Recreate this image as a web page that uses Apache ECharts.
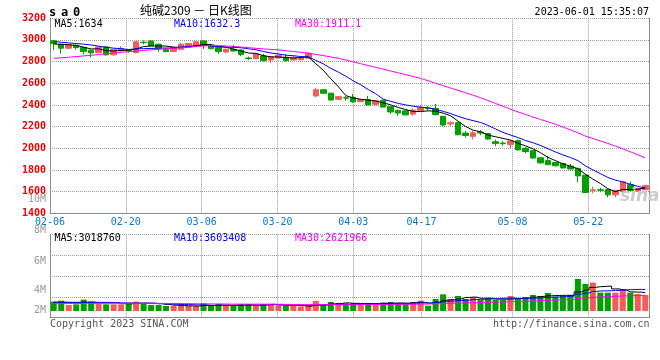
<!DOCTYPE html>
<html><head><meta charset="utf-8">
<script src="https://cdn.jsdelivr.net/npm/echarts@6/dist/echarts.min.js"></script>
<style>html,body{margin:0;padding:0;background:#fff}#c{width:660px;height:360px}</style>
</head><body><div id="c"></div>
<script>
// ---------- data ----------
const dates = ['02-06','02-07','02-08','02-09','02-10','02-13','02-14','02-15','02-16','02-17',
 '02-20','02-21','02-22','02-23','02-24','02-27','02-28','03-01','03-02','03-03',
 '03-06','03-07','03-08','03-09','03-10','03-13','03-14','03-15','03-16','03-17',
 '03-20','03-21','03-22','03-23','03-24','03-27','03-28','03-29','03-30','03-31',
 '04-03','04-04','04-06','04-07','04-10','04-11','04-12','04-13','04-14',
 '04-17','04-18','04-19','04-20','04-21','04-24','04-25','04-26','04-27','04-28',
 '05-04','05-05','05-08','05-09','05-10','05-11','05-12','05-15','05-16','05-17','05-18','05-19',
 '05-22','05-23','05-24','05-25','05-26','05-29','05-30','05-31','06-01'];
const dateTicks = ['02-06','02-20','03-06','03-20','04-03','04-17','05-08','05-22'];

const openP = [2991,2960,2923,2950,2929,2905,2883,2935,2862,2898,
 2905,2883,2978,2990,2960,2914,2893,2914,2938,2945,
 2990,2944,2932,2888,2912,2907,2833,2827,2852,2815,
 2833,2840,2815,2818,2830,2483,2540,2508,2452,2466,
 2470,2432,2450,2405,2440,2384,2350,2345,2315,2350,
 2372,2368,2295,2225,2236,2140,2110,2150,2135,2060,
 2048,2035,2070,2000,1978,1912,1888,1868,1860,1836,
 1815,1752,1608,1618,1620,1570,1600,1665,1605,1620];
const closeP = [2966,2923,2954,2930,2892,2880,2935,2862,2914,2923,
 2898,2982,2974,2945,2923,2892,2930,2960,2966,2982,
 2953,2919,2892,2913,2898,2864,2828,2870,2809,2845,
 2858,2809,2840,2835,2875,2540,2508,2446,2476,2462,
 2428,2450,2400,2438,2380,2335,2325,2308,2352,2375,
 2366,2310,2215,2235,2125,2118,2142,2140,2085,2045,
 2042,2068,1985,1970,1910,1865,1848,1838,1818,1808,
 1745,1592,1616,1612,1570,1612,1690,1610,1630,1655];
const lowP = [2905,2874,2918,2910,2868,2837,2878,2855,2855,2895,
 2880,2875,2960,2940,2892,2885,2885,2910,2932,2940,
 2916,2912,2870,2875,2890,2850,2815,2820,2800,2785,
 2830,2800,2810,2810,2825,2470,2500,2438,2445,2440,
 2421,2428,2398,2395,2375,2316,2298,2305,2300,2345,
 2350,2305,2200,2205,2120,2100,2080,2120,2080,2020,
 2025,2000,1980,1955,1905,1860,1845,1835,1815,1805,
 1685,1590,1585,1595,1548,1548,1598,1605,1598,1612];
const highP = [3000,2965,2960,2960,2935,2910,2940,2945,2918,2945,
 2915,2990,2995,2995,2965,2925,2940,2975,2970,2990,
 2995,2962,2935,2920,2953,2910,2845,2880,2872,2850,
 2870,2870,2850,2842,2885,2555,2545,2512,2480,2482,
 2501,2455,2483,2445,2450,2388,2355,2348,2368,2400,
 2390,2409,2298,2248,2240,2160,2160,2168,2140,2080,
 2065,2072,2080,2010,1982,1915,1930,1872,1862,1855,
 1818,1755,1646,1635,1625,1615,1700,1692,1635,1662];

const ma5 = [2962,2958,2955,2948,2933,2916,2918,2900,2897,2903,
 2906,2916,2938,2944,2944,2943,2933,2930,2934,2946,
 2958,2956,2942,2932,2915,2897,2879,2875,2854,2843,
 2842,2838,2832,2837,2843,2780,2720,2641,2569,2486,
 2464,2452,2443,2436,2419,2401,2376,2357,2340,2339,
 2345,2342,2324,2300,2250,2201,2167,2152,2122,2106,
 2091,2076,2045,2022,1995,1960,1916,1886,1856,1835,
 1811,1760,1716,1675,1627,1600,1620,1619,1622,1634];
const ma10 = [2985,2978,2972,2966,2960,2953,2942,2932,2924,2918,
 2911,2917,2919,2921,2924,2925,2925,2934,2939,2945,
 2951,2945,2936,2933,2931,2928,2918,2909,2893,2879,
 2870,2859,2854,2846,2843,2811,2779,2737,2703,2665,
 2622,2586,2542,2503,2453,2433,2414,2400,2388,2379,
 2373,2359,2341,2320,2295,2273,2255,2238,2211,2178,
 2146,2122,2099,2072,2051,2026,1996,1966,1939,1915,
 1886,1838,1801,1766,1731,1706,1690,1668,1649,1632.3];
const ma30 = [2830,2835,2840,2846,2852,2858,2865,2872,2879,2885,
 2891,2897,2903,2908,2913,2918,2922,2927,2932,2938,
 2945,2948,2947,2944,2940,2934,2928,2922,2917,2912,
 2907,2900,2893,2886,2878,2866,2855,2843,2830,2815,
 2797,2780,2763,2746,2730,2713,2696,2680,2662,2645,
 2622,2600,2578,2556,2534,2512,2490,2466,2440,2414,
 2388,2360,2336,2312,2288,2266,2244,2222,2196,2170,
 2143,2112,2090,2068,2045,2020,1995,1968,1940,1911.1];

// volume in millions
const volume = [1.56,1.72,1.00,1.11,1.89,1.56,1.28,1.11,1.11,1.11,
 1.39,1.56,1.17,1.00,1.00,0.83,0.83,0.83,0.83,0.83,
 1.28,0.83,1.17,0.83,0.83,1.17,1.17,0.83,1.17,1.17,
 0.83,0.83,0.83,0.72,0.83,1.67,1.17,1.50,1.11,1.28,
 1.28,1.11,1.28,1.11,1.39,1.50,1.28,1.28,1.50,1.72,
 0.89,2.00,2.78,2.00,2.50,2.00,2.28,1.83,2.06,1.83,
 1.83,2.50,2.17,2.33,2.67,2.50,3.00,2.39,2.50,2.67,
 5.33,4.50,4.72,3.06,3.06,3.06,3.67,3.06,2.83,2.67];
const volMa5 = [1.45,1.45,1.40,1.40,1.46,1.46,1.37,1.39,1.39,1.23,
 1.20,1.26,1.27,1.25,1.22,1.11,0.97,0.90,0.86,0.83,
 0.92,0.92,0.99,0.99,0.99,0.97,1.03,0.97,1.03,1.10,
 1.03,0.97,0.97,0.88,0.81,0.98,1.04,1.18,1.26,1.35,
 1.27,1.26,1.21,1.21,1.23,1.28,1.31,1.31,1.39,1.46,
 1.33,1.48,1.78,1.88,2.03,2.26,2.31,2.12,2.13,2.00,
 1.97,2.01,2.08,2.13,2.30,2.43,2.53,2.58,2.61,2.61,
 3.18,3.48,3.94,4.06,4.13,3.68,3.51,3.18,3.14,3.02];
const volMa10 = [1.45,1.45,1.45,1.45,1.45,1.45,1.44,1.43,1.42,1.35,
 1.33,1.32,1.33,1.32,1.23,1.16,1.12,1.09,1.06,1.03,
 1.02,0.95,0.95,0.93,0.91,0.95,0.98,0.98,1.01,1.05,
 1.00,1.00,0.97,0.96,0.96,1.01,1.01,1.08,1.07,1.08,
 1.13,1.15,1.20,1.24,1.29,1.28,1.29,1.26,1.30,1.35,
 1.31,1.40,1.55,1.64,1.75,1.80,1.90,1.95,2.01,2.02,
 2.12,2.16,2.10,2.13,2.15,2.20,2.27,2.33,2.37,2.46,
 2.81,3.01,3.26,3.34,3.37,3.43,3.50,3.56,3.60,3.60];
const volMa30 = [1.22,1.23,1.24,1.25,1.26,1.27,1.28,1.28,1.28,1.28,
 1.28,1.28,1.28,1.27,1.26,1.25,1.24,1.23,1.22,1.20,
 1.19,1.18,1.17,1.16,1.15,1.15,1.14,1.14,1.14,1.14,
 1.12,1.10,1.09,1.07,1.06,1.07,1.06,1.06,1.05,1.05,
 1.05,1.06,1.07,1.08,1.09,1.10,1.11,1.12,1.14,1.16,
 1.17,1.20,1.25,1.29,1.33,1.36,1.39,1.42,1.45,1.48,
 1.52,1.57,1.61,1.65,1.70,1.74,1.79,1.83,1.88,1.94,
 2.08,2.20,2.30,2.36,2.42,2.47,2.52,2.56,2.59,2.62];

const priceLegend = ['MA5:1634', 'MA10:1632.3', 'MA30:1911.1'];
const volLegend = ['MA5:3018760', 'MA10:3603408', 'MA30:2621966'];
const volTickLabels = ['10M', '8M', '6M', '4M', '2M'];
const titleText = '纯碱2309 － 日K线图';
const symbolChars = ['s', 'a', '0'];
const timeText = '2023-06-01 15:35:07';
const footLeft = 'Copyright 2023 SINA.COM';
const footRight = 'http://finance.sina.com.cn';

// ---------- chart ----------
const MONO = '"DejaVu Sans Mono", "Liberation Mono", monospace';
const GRID_C = '#9c9c9c';
const AXIS_C = '#8c8c8c';
const UP = '#f65a5a', DOWN = '#00a000';
const isTick = (i, v) => dateTicks.includes(v);
const dotted = { color: GRID_C, type: [1, 1], width: 1 };

const candleData = dates.map((d, i) => [openP[i], closeP[i], lowP[i], highP[i]]);
const volData = volume.map((v, i) => ({ value: v, itemStyle: { color: closeP[i] >= openP[i] ? UP : DOWN } }));

function txt(text, x, y, color, font, align) {
  return { type: 'text', x: x, y: y, silent: true, z: 100,
    style: { text: text, fill: color, font: font, textAlign: align || 'left', align: align || 'left',
      textVerticalAlign: 'middle', verticalAlign: 'middle' } };
}
const f10 = '10px ' + MONO;
const graphics = [
  txt(symbolChars[0], 52.5, 12.5, '#000', 'bold 12px ' + MONO, 'center'),
  txt(symbolChars[1], 64.5, 12.5, '#000', 'bold 12px ' + MONO, 'center'),
  txt(symbolChars[2], 76.7, 12.5, '#000', 'bold 12px ' + MONO, 'center'),
  txt(titleText, 140, 10, '#000', '12px "Noto Sans CJK SC"', 'left'),
  txt(timeText, 649, 12.5, '#000', f10, 'right'),
  txt(priceLegend[0], 54.5, 24, '#000', f10, 'left'),
  txt(priceLegend[1], 174, 24, '#0000ff', f10, 'left'),
  txt(priceLegend[2], 295, 24, '#ff00ff', f10, 'left'),
  txt(volLegend[0], 54.5, 238.5, '#000', f10, 'left'),
  txt(volLegend[1], 174, 238.5, '#0000ff', f10, 'left'),
  txt(volLegend[2], 295, 238.5, '#ff00ff', f10, 'left'),
  txt(volTickLabels[0], 46, 199.7, '#999', f10, 'right'),
  txt(volTickLabels[1], 46, 230.7, '#999', f10, 'right'),
  txt(volTickLabels[2], 46, 261, '#999', f10, 'right'),
  txt(volTickLabels[3], 46, 290.3, '#999', f10, 'right'),
  txt(volTickLabels[4], 46, 310, '#999', f10, 'right'),
  txt(footLeft, 50, 324.3, '#555', f10, 'left'),
  txt(footRight, 649.5, 324.3, '#555', f10, 'right'),
  txt('sina', 620, 197, '#cccccc', 'italic bold 17px "DejaVu Sans"', 'left')
];

const hiddenCat = (grid, bg, lineShow) => ({
  type: 'category', gridIndex: grid, data: dates, boundaryGap: bg,
  axisLine: { show: lineShow, lineStyle: { color: AXIS_C, width: 1 } },
  axisTick: { show: false }, axisLabel: { show: false }, splitLine: { show: false }
});

const option = {
  animation: false,
  backgroundColor: '#fff',
  graphic: graphics,
  grid: [
    { left: 50, right: 11, top: 18.2, height: 195.1, outerBoundsMode: 'none', containLabel: false },
    { left: 50, right: 11, top: 234.3, height: 83.4, outerBoundsMode: 'none', containLabel: false }
  ],
  xAxis: [
    hiddenCat(0, true, true),
    { type: 'category', gridIndex: 0, data: dates, boundaryGap: false, position: 'bottom',
      axisLine: { show: false }, axisTick: { show: false },
      axisLabel: { interval: isTick, color: '#0a78d2', fontFamily: MONO, fontSize: 10, margin: 4, hideOverlap: false },
      splitLine: { show: true, interval: isTick, lineStyle: dotted } },
    hiddenCat(1, true, true),
    { type: 'category', gridIndex: 1, data: dates, boundaryGap: false, position: 'bottom',
      axisLine: { show: false }, axisTick: { show: false }, axisLabel: { show: false },
      splitLine: { show: true, interval: isTick, lineStyle: dotted } }
  ],
  yAxis: [
    { type: 'value', gridIndex: 0, min: 1400, max: 3200, interval: 200,
      axisLine: { show: true, lineStyle: { color: AXIS_C } }, axisTick: { show: false },
      axisLabel: { color: '#f00000', fontFamily: MONO, fontSize: 10, fontWeight: 'bold', margin: 4,
        formatter: v => String(v) },
      splitLine: { show: true, lineStyle: dotted } },
    { type: 'value', gridIndex: 0, position: 'right', min: 0, max: 1,
      axisLine: { show: true, lineStyle: { color: AXIS_C } }, axisTick: { show: false },
      axisLabel: { show: false }, splitLine: { show: false } },
    { type: 'value', gridIndex: 1, min: 0, max: 4, interval: 1,
      axisLine: { show: true, lineStyle: { color: AXIS_C } }, axisTick: { show: false },
      axisLabel: { show: false }, splitLine: { show: true, lineStyle: dotted } },
    { type: 'value', gridIndex: 1, position: 'right', min: 0, max: 1,
      axisLine: { show: true, lineStyle: { color: AXIS_C } }, axisTick: { show: false },
      axisLabel: { show: false }, splitLine: { show: false } },
    { type: 'value', gridIndex: 1, min: -1.117, max: 12.78, show: false, splitLine: { show: false } }
  ],
  series: [
    { type: 'candlestick', xAxisIndex: 0, yAxisIndex: 0, data: candleData, barWidth: 6,
      itemStyle: { color: UP, color0: DOWN, borderColor: UP, borderColor0: DOWN, borderWidth: 1 } },
    { type: 'line', xAxisIndex: 0, yAxisIndex: 0, data: ma5, symbol: 'none', z: 5,
      lineStyle: { color: '#000', width: 1 } },
    { type: 'line', xAxisIndex: 0, yAxisIndex: 0, data: ma10, symbol: 'none', z: 5,
      lineStyle: { color: '#0000ff', width: 1 } },
    { type: 'line', xAxisIndex: 0, yAxisIndex: 0, data: ma30, symbol: 'none', z: 5,
      lineStyle: { color: '#ff00ff', width: 1 } },
    { type: 'bar', xAxisIndex: 2, yAxisIndex: 4, data: volData, barWidth: 6 },
    { type: 'line', xAxisIndex: 2, yAxisIndex: 4, data: volMa5, symbol: 'none', step: 'middle', z: 5,
      lineStyle: { color: '#000', width: 1 } },
    { type: 'line', xAxisIndex: 2, yAxisIndex: 4, data: volMa10, symbol: 'none', step: 'middle', z: 5,
      lineStyle: { color: '#0000ff', width: 1 } },
    { type: 'line', xAxisIndex: 2, yAxisIndex: 4, data: volMa30, symbol: 'none', step: 'middle', z: 5,
      lineStyle: { color: '#ff00ff', width: 1 } }
  ]
};
const chart = echarts.init(document.getElementById('c'), null, { renderer: 'canvas' });
chart.setOption(option);
</script>
</body></html>
